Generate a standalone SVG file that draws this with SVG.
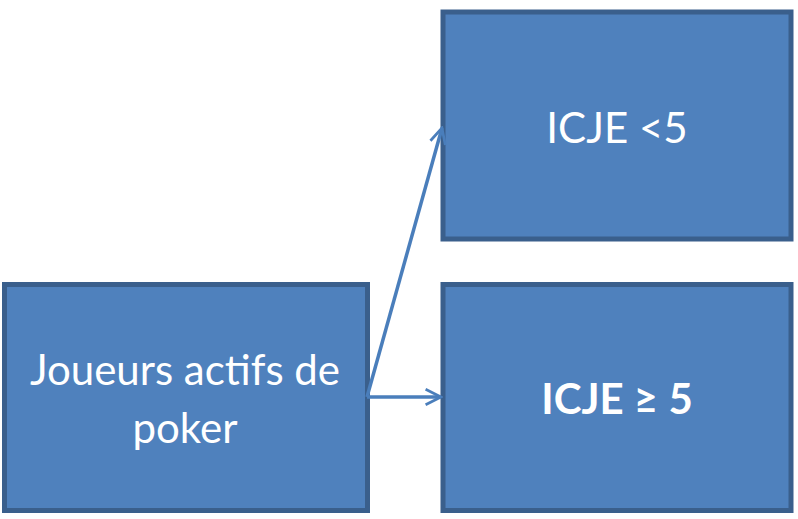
<svg xmlns="http://www.w3.org/2000/svg" width="798" height="519" viewBox="0 0 798 519">
  <style>
    .box { fill: #4f81bd; stroke: #3a5f8c; stroke-width: 5; }
    .label { fill: #ffffff; font-family: Lato, "Open Sans", sans-serif; font-size: 42px; text-anchor: middle; }
    .bold { font-weight: bold; }
    .link { fill: none; stroke: #4a7ebb; stroke-width: 3.5; }
  </style>
  <defs>
    <marker id="arrow" viewBox="0 0 10 10" refX="9" refY="5" markerWidth="5.5" markerHeight="5.5" markerUnits="strokeWidth" orient="auto">
      <path d="M1,1 L9,5 L1,9" fill="none" stroke="#4a7ebb" stroke-width="1.4"/>
    </marker>
  </defs>

  <g id="node-joueurs">
    <rect class="box" x="4.5" y="284.5" width="363" height="226"/>
    <text class="label" x="185" y="385">Joueurs actifs de</text>
    <text class="label" x="185" y="443">poker</text>
  </g>

  <g id="node-icje-low">
    <rect class="box" x="443" y="12" width="348" height="227"/>
    <text class="label" x="617" y="143">ICJE &lt;5</text>
  </g>

  <g id="node-icje-high">
    <rect class="box" x="443" y="284.5" width="348" height="226"/>
    <text class="label bold" x="617" y="414">ICJE ≥ 5</text>
  </g>

  <g id="connectors">
    <path class="link" d="M367,397 L442,128" marker-end="url(#arrow)"/>
    <path class="link" d="M367,397 L441,397" marker-end="url(#arrow)"/>
  </g>
</svg>
